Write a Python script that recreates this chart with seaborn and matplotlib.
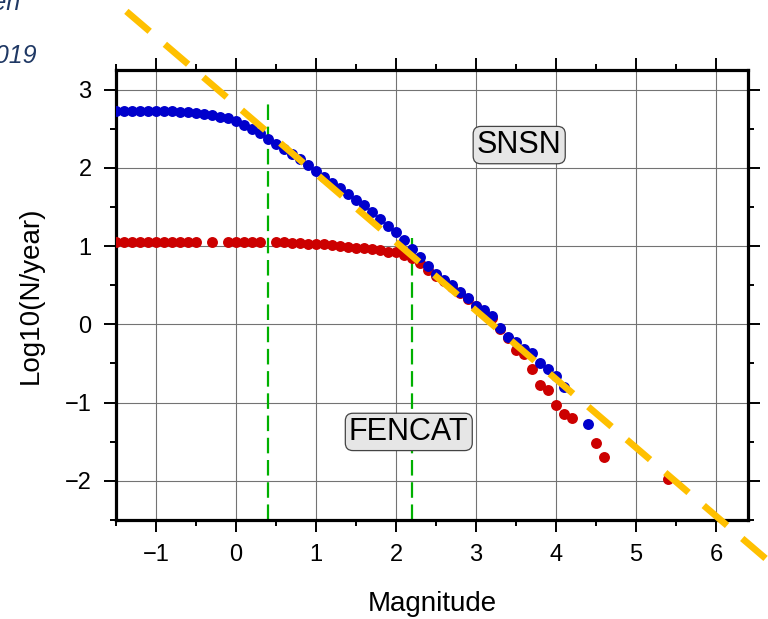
import numpy as np
import pandas as pd
import matplotlib
matplotlib.use('Agg')
import matplotlib.pyplot as plt
import seaborn as sns

# magnitude bins and cumulative rates (log10 N/year)
snsn_mag = [-1.5, -1.4, -1.3, -1.2, -1.1, -1.0, -0.9, -0.8, -0.7, -0.6,
            -0.5, -0.4, -0.3, -0.2, -0.1, 0.0, 0.1, 0.2, 0.3, 0.4,
            0.5, 0.6, 0.7, 0.8, 0.9, 1.0, 1.1, 1.2, 1.3, 1.4,
            1.5, 1.6, 1.7, 1.8, 1.9, 2.0, 2.1, 2.2, 2.3, 2.4,
            2.5, 2.6, 2.7, 2.8, 2.9, 3.0, 3.1, 3.2, 3.3, 3.4,
            3.5, 3.6, 3.7, 3.8, 3.9, 4.0, 4.1, 4.4]
snsn_logn = [2.72, 2.72, 2.72, 2.72, 2.72, 2.72, 2.72, 2.72, 2.71, 2.71,
             2.70, 2.69, 2.67, 2.65, 2.63, 2.60, 2.55, 2.50, 2.44, 2.37,
             2.31, 2.24, 2.17, 2.11, 2.03, 1.96, 1.88, 1.81, 1.74, 1.66,
             1.59, 1.52, 1.43, 1.35, 1.26, 1.18, 1.08, 0.96, 0.86, 0.75,
             0.64, 0.56, 0.50, 0.41, 0.33, 0.24, 0.18, 0.11, -0.05, -0.16,
             -0.23, -0.31, -0.37, -0.49, -0.57, -0.66, -0.80, -1.28]

fencat_mag = [-1.5, -1.4, -1.3, -1.2, -1.1, -1.0, -0.9, -0.8, -0.7, -0.6,
              -0.5, -0.3, -0.1, 0.0, 0.1, 0.2, 0.3,
              0.5, 0.6, 0.7, 0.8, 0.9, 1.0, 1.1, 1.2, 1.3, 1.4,
              1.5, 1.6, 1.7, 1.8, 1.9, 2.0, 2.1, 2.2, 2.3, 2.4,
              2.5, 2.6, 2.7, 2.8, 2.9, 3.0, 3.1, 3.2, 3.3, 3.4,
              3.5, 3.6, 3.7, 3.8, 3.9, 4.0, 4.1, 4.2, 4.5, 4.6, 5.4]
fencat_logn = [1.05, 1.05, 1.05, 1.05, 1.05, 1.05, 1.05, 1.05, 1.05, 1.05,
               1.05, 1.05, 1.05, 1.05, 1.05, 1.05, 1.05,
               1.05, 1.05, 1.04, 1.04, 1.03, 1.03, 1.02, 1.01, 1.00, 0.99,
               0.98, 0.97, 0.96, 0.95, 0.93, 0.92, 0.89, 0.85, 0.78, 0.70,
               0.62, 0.55, 0.48, 0.40, 0.32, 0.24, 0.15, 0.08, -0.06, -0.18,
               -0.33, -0.38, -0.57, -0.78, -0.84, -1.03, -1.14, -1.20, -1.52, -1.69, -1.98]

# Gutenberg-Richter fit: log10 N = a - b*M
a_value = 2.80
b_value = 0.875
fit_range = [-1.37, 7.5]

# magnitudes of completeness (dashed green), with line tops
mc_values = [0.4, 2.2]
mc_tops = [2.85, 1.1]

snsn_df = pd.DataFrame({'Magnitude': snsn_mag, 'LogN': snsn_logn})
fencat_df = pd.DataFrame({'Magnitude': fencat_mag, 'LogN': fencat_logn})

sns.set_style('white')
plt.rcParams['font.family'] = ['Liberation Sans', 'DejaVu Sans']
plt.rcParams['text.color'] = 'black'
plt.rcParams['axes.labelcolor'] = 'black'
plt.rcParams['xtick.color'] = 'black'
plt.rcParams['ytick.color'] = 'black'

fig = plt.figure(figsize=(7.68, 6.19), dpi=100)
ax = fig.add_axes([0.151, 0.160, 0.823, 0.727])

ax.set_xlim(-1.5, 6.4)
ax.set_ylim(-2.5, 3.25)

# grid at integer ticks
ax.set_xticks(range(-1, 7))
ax.set_yticks(range(-2, 4))
ax.set_xticks(np.arange(-1.5, 6.5, 0.5), minor=True)
ax.set_yticks(np.arange(-2.5, 3.5, 0.5), minor=True)
ax.grid(True, which='major', color='0.45', linewidth=0.8, zorder=0)
ax.set_axisbelow(True)

# completeness lines
for mc, top in zip(mc_values, mc_tops):
    ax.plot([mc, mc], [-2.5, top], color='#00B000', linewidth=1.6,
            dashes=(7, 3), zorder=2)

sns.scatterplot(data=fencat_df, x='Magnitude', y='LogN', color='#CC0000',
                s=62, linewidth=0, ax=ax, zorder=3)
sns.scatterplot(data=snsn_df, x='Magnitude', y='LogN', color='#0000CC',
                s=62, linewidth=0, ax=ax, zorder=4)

# b-value line, running outside the frame
fit_x = np.array(fit_range)
ax.plot(fit_x, a_value - b_value * fit_x, color='#FFC000', linewidth=4.8,
        dashes=(4.6, 3.0), solid_capstyle='butt', dash_capstyle='butt',
        clip_on=False, zorder=5)

box = dict(boxstyle='round,pad=0.12,rounding_size=0.25', facecolor='#E6E6E6',
           edgecolor='#444444', linewidth=0.9)
ax.text(3.54, 2.29, 'SNSN', fontsize=22, ha='center', va='center', bbox=box, zorder=6)
ax.text(2.16, -1.375, 'FENCAT', fontsize=22, ha='center', va='center', bbox=box, zorder=6)

ax.set_xlabel('Magnitude', fontsize=20, labelpad=18)
ax.set_ylabel('Log10(N/year)', fontsize=20, labelpad=15)

for side in ['left', 'right', 'top', 'bottom']:
    ax.spines[side].set_visible(True)
    ax.spines[side].set_linewidth(2.3)
    ax.spines[side].set_color('black')

ax.tick_params(which='major', direction='out', length=8.5, width=1.4,
               labelsize=17, top=True, right=True, bottom=True, left=True,
               pad=9)
ax.tick_params(which='minor', direction='out', length=4.3, width=1.4,
               top=True, right=True, bottom=True, left=True)

# partly cropped caption text at top left
fig.text(20 / 768, 1 - 10 / 619, 'Sweden', fontsize=18, style='italic',
         color='#1F3864', ha='right', va='baseline')
fig.text(37 / 768, 1 - 63 / 619, '2019', fontsize=18, style='italic',
         color='#1F3864', ha='right', va='baseline')

fig.savefig('out.png', dpi=100)
